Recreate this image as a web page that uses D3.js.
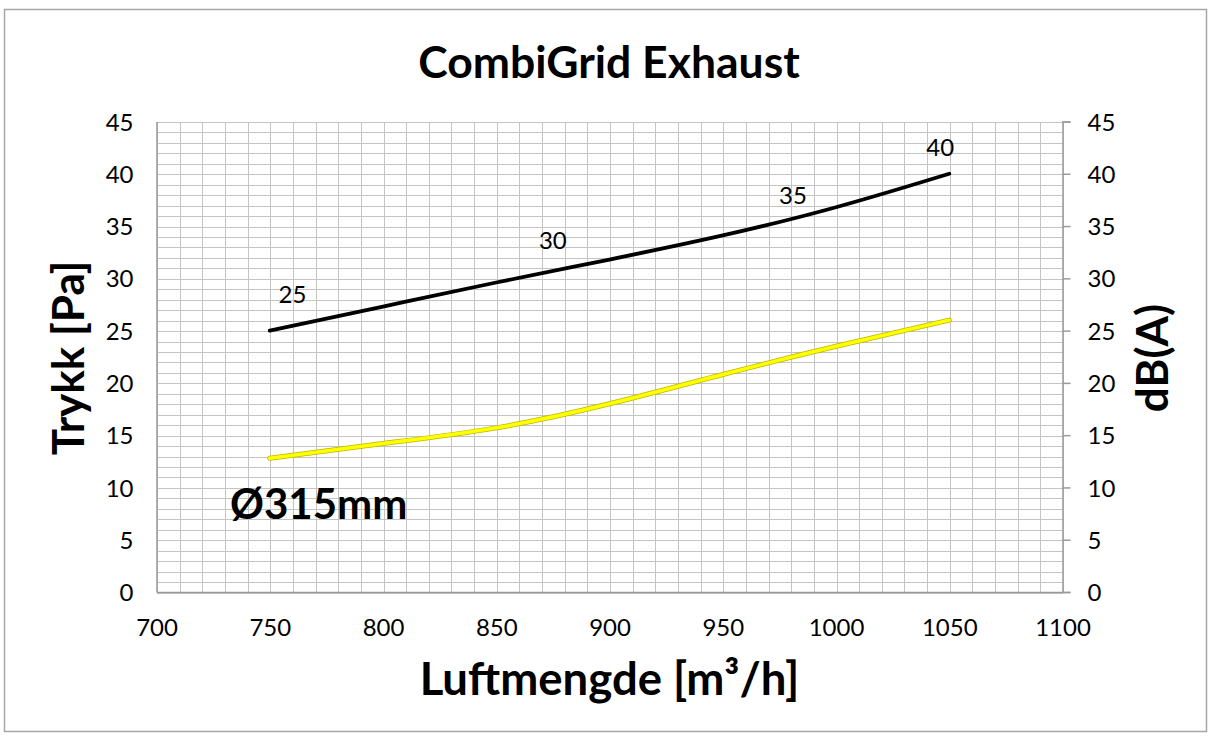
<!DOCTYPE html>
<html>
<head>
<meta charset="utf-8">
<script src="https://cdn.jsdelivr.net/npm/d3@7"></script>
<style>
  body { margin: 0; background: #fff; }
  svg text { font-family: Lato, "Open Sans", sans-serif; fill: #000; }
  .tick text { font-size: 24px; }
  .grid line { stroke: #c4c4c4; stroke-width: 1; shape-rendering: crispEdges; }
</style>
</head>
<body>
<div id="chart"></div>
<script>

// airflow (m3/h) values along both curves
var airflow = [750, 800, 850, 900, 950, 1000, 1050];
// black curve: pressure [Pa]
var pressure = [25, 27.3, 29.6, 31.8, 34.1, 36.8, 40];
// yellow curve
var yellowCurve = [12.8, 14.2, 15.7, 18.0, 20.8, 23.5, 26.0];

// dB labels written along the black curve
var dbLabels = ["25", "30", "35", "40"];
var dbLabelX = [760, 875, 981, 1046];
var dbLabelY = [27.6, 32.8, 37.1, 41.7];

var xTicks = [700, 750, 800, 850, 900, 950, 1000, 1050, 1100];
var yTicks = [0, 5, 10, 15, 20, 25, 30, 35, 40, 45];

var W = 1211, H = 736;
var margin = { left: 156.5, right: 148.5, top: 121.5, bottom: 144 };
var width = W - margin.left - margin.right;
var height = H - margin.top - margin.bottom;

var svg = d3.select("#chart").append("svg")
    .attr("width", W)
    .attr("height", H);

// outer chart frame
svg.append("rect")
    .attr("x", 4.5).attr("y", 9.5)
    .attr("width", 1202).attr("height", 722)
    .attr("fill", "#fff")
    .attr("stroke", "#a6a6a6")
    .attr("stroke-width", 1.5);

var g = svg.append("g")
    .attr("transform", "translate(" + margin.left + "," + margin.top + ")");

var x = d3.scaleLinear().domain([700, 1100]).range([0, width]);
var y = d3.scaleLinear().domain([0, 45]).range([height, 0]);

// grid: vertical every 10, horizontal every 1
g.append("g").attr("class", "grid")
    .selectAll("line")
    .data(d3.range(700, 1101, 10)).enter()
    .append("line")
    .attr("x1", function(d){ return Math.round(x(d)) + 0.5 })
    .attr("x2", function(d){ return Math.round(x(d)) + 0.5 })
    .attr("y1", 0).attr("y2", height);

g.append("g").attr("class", "grid")
    .selectAll("line")
    .data(d3.range(0, 46, 1)).enter()
    .append("line")
    .attr("y1", function(d){ return Math.round(y(d)) + 0.5 })
    .attr("y2", function(d){ return Math.round(y(d)) + 0.5 })
    .attr("x1", 0).attr("x2", width);

// axes
var xAxis = g.append("g")
    .attr("transform", "translate(0," + height + ")")
    .call(d3.axisBottom(x).tickValues(xTicks).tickFormat(d3.format("d")).tickSize(0).tickPadding(27));

var yAxis = g.append("g")
    .call(d3.axisLeft(y).tickValues(yTicks).tickSize(0).tickPadding(23));

var y2Axis = g.append("g")
    .attr("transform", "translate(" + width + ",0)")
    .call(d3.axisRight(y).tickValues(yTicks).tickSize(8).tickPadding(17));

[xAxis, yAxis, y2Axis].forEach(function(a){
    a.select(".domain").attr("stroke", "#9a9a9a").attr("stroke-width", 1.5);
    a.selectAll(".tick line").attr("stroke", "#9a9a9a").attr("stroke-width", 1.5);
    a.selectAll(".tick text").attr("font-family", null).attr("font-size", null);
});
yAxis.selectAll(".tick text").attr("dy", "0.36em");
y2Axis.selectAll(".tick text").attr("dy", "0.36em");

// smoothed lines like the spreadsheet original
var line = d3.line()
    .x(function(d){ return x(d[0]) })
    .y(function(d){ return y(d[1]) })
    .curve(d3.curveNatural);

var yellowPts = airflow.map(function(a, i){ return [a, yellowCurve[i]] });
var blackPts = airflow.map(function(a, i){ return [a, pressure[i]] });

g.append("path").datum(yellowPts)
    .attr("d", line).attr("fill", "none")
    .attr("stroke", "#b8b800").attr("stroke-width", 5)
    .attr("stroke-linecap", "round");
g.append("path").datum(yellowPts)
    .attr("d", line).attr("fill", "none")
    .attr("stroke", "#ffff00").attr("stroke-width", 3.5)
    .attr("stroke-linecap", "round");

g.append("path").datum(blackPts)
    .attr("d", line).attr("fill", "none")
    .attr("stroke", "#000").attr("stroke-width", 3.8)
    .attr("stroke-linecap", "round");

g.selectAll(".dblabel")
    .data(dbLabels).enter()
    .append("text")
    .attr("class", "dblabel")
    .attr("x", function(d, i){ return x(dbLabelX[i]) })
    .attr("y", function(d, i){ return y(dbLabelY[i]) })
    .style("text-anchor", "middle")
    .style("font-size", "24px")
    .text(function(d){ return d });

// titles
svg.append("text")
    .attr("x", 609).attr("y", 78)
    .style("text-anchor", "middle")
    .style("font-size", "44.5px").style("font-weight", "bold")
    .text("CombiGrid Exhaust");

svg.append("text")
    .attr("x", 609.5).attr("y", 695)
    .style("text-anchor", "middle")
    .style("font-size", "45.5px").style("font-weight", "bold")
    .text("Luftmengde [m³/h]");

svg.append("text")
    .attr("transform", "translate(84,358) rotate(-90)")
    .style("text-anchor", "middle")
    .style("font-size", "44px").style("font-weight", "bold")
    .text("Trykk [Pa]");

svg.append("text")
    .attr("transform", "translate(1168,358) rotate(-90)")
    .style("text-anchor", "middle")
    .style("font-size", "44px").style("font-weight", "bold")
    .text("dB(A)");

svg.append("text")
    .attr("x", 230).attr("y", 519)
    .style("font-size", "42px").style("font-weight", "bold")
    .text("Ø315mm");

</script>
</body>
</html>
